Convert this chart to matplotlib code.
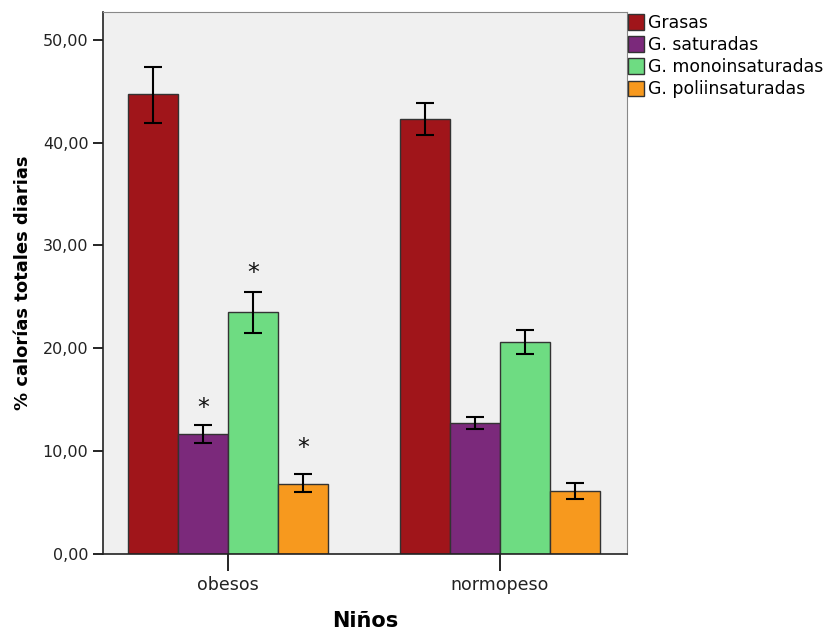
import matplotlib.pyplot as plt
import numpy as np

groups = ['obesos', 'normopeso']
series = ['Grasas', 'G. saturadas', 'G. monoinsaturadas', 'G. poliinsaturadas']
colors = ['#A0151A', '#7B297B', '#6EDC82', '#F7991E']

# mean values per series: [obesos, normopeso]
means = [[44.7, 42.3],
         [11.65, 12.7],
         [23.5, 20.6],
         [6.85, 6.1]]
err_low = [[41.95, 40.7],
           [10.8, 12.15],
           [21.5, 19.45],
           [6.0, 5.3]]
err_high = [[47.4, 43.9],
            [12.55, 13.35],
            [25.45, 21.8],
            [7.75, 6.9]]
# significance markers: (series index, group index, height of the asterisk)
stars = [(1, 0, 14.2), (2, 0, 27.3), (3, 0, 10.3)]

fig = plt.figure(figsize=(8.3, 6.33), dpi=100)
ax = fig.add_axes([0.1241, 0.1248, 0.6313, 0.8562])
ax.set_facecolor('#F0F0F0')

x = np.arange(len(groups))
w = 0.184
for i, s in enumerate(series):
    pos = x + (i - 1.5) * w
    m = np.array(means[i])
    lo = m - np.array(err_low[i])
    hi = np.array(err_high[i]) - m
    ax.bar(pos, m, width=w, color=colors[i], edgecolor='#333333', linewidth=1.0,
           label=s, zorder=2)
    ax.errorbar(pos, m, yerr=[lo, hi], fmt='none', ecolor='black', elinewidth=1.5,
                capsize=6.5, capthick=1.5, zorder=3)

for si, gi, h in stars:
    xp = x[gi] + (si - 1.5) * w
    ax.text(xp, h, '*', ha='center', va='center', fontsize=17, color='#111111')

ax.set_xlim(-0.46, 1.467)
ax.set_ylim(0, 52.7)
ax.set_yticks([0, 10, 20, 30, 40, 50])
ax.set_yticklabels(['0,00', '10,00', '20,00', '30,00', '40,00', '50,00'], fontsize=11.5, color='#222222')
ax.set_xticks(x)
ax.set_xticklabels(groups, fontsize=12.5, color='#222222')
ax.tick_params(axis='y', length=7, width=1.2, direction='out')
ax.tick_params(axis='x', length=12, width=1.2, direction='out', pad=4)
for sp in ['top', 'right']:
    ax.spines[sp].set_color('#888888')
for sp in ['left', 'bottom']:
    ax.spines[sp].set_color('#222222')
    ax.spines[sp].set_linewidth(1.2)

ax.set_ylabel('% calorías totales diarias', fontsize=13, fontweight='bold', labelpad=8)
ax.set_xlabel('Niños', fontsize=15, fontweight='bold', labelpad=12)

ax.legend(loc='upper left', bbox_to_anchor=(0.998, 1.0), frameon=False, fontsize=12.4,
          handlelength=0.95, handleheight=1.0, handletextpad=0.25, labelspacing=0.24,
          borderaxespad=0.0, borderpad=0.1)

fig.savefig('out.png', dpi=100)
